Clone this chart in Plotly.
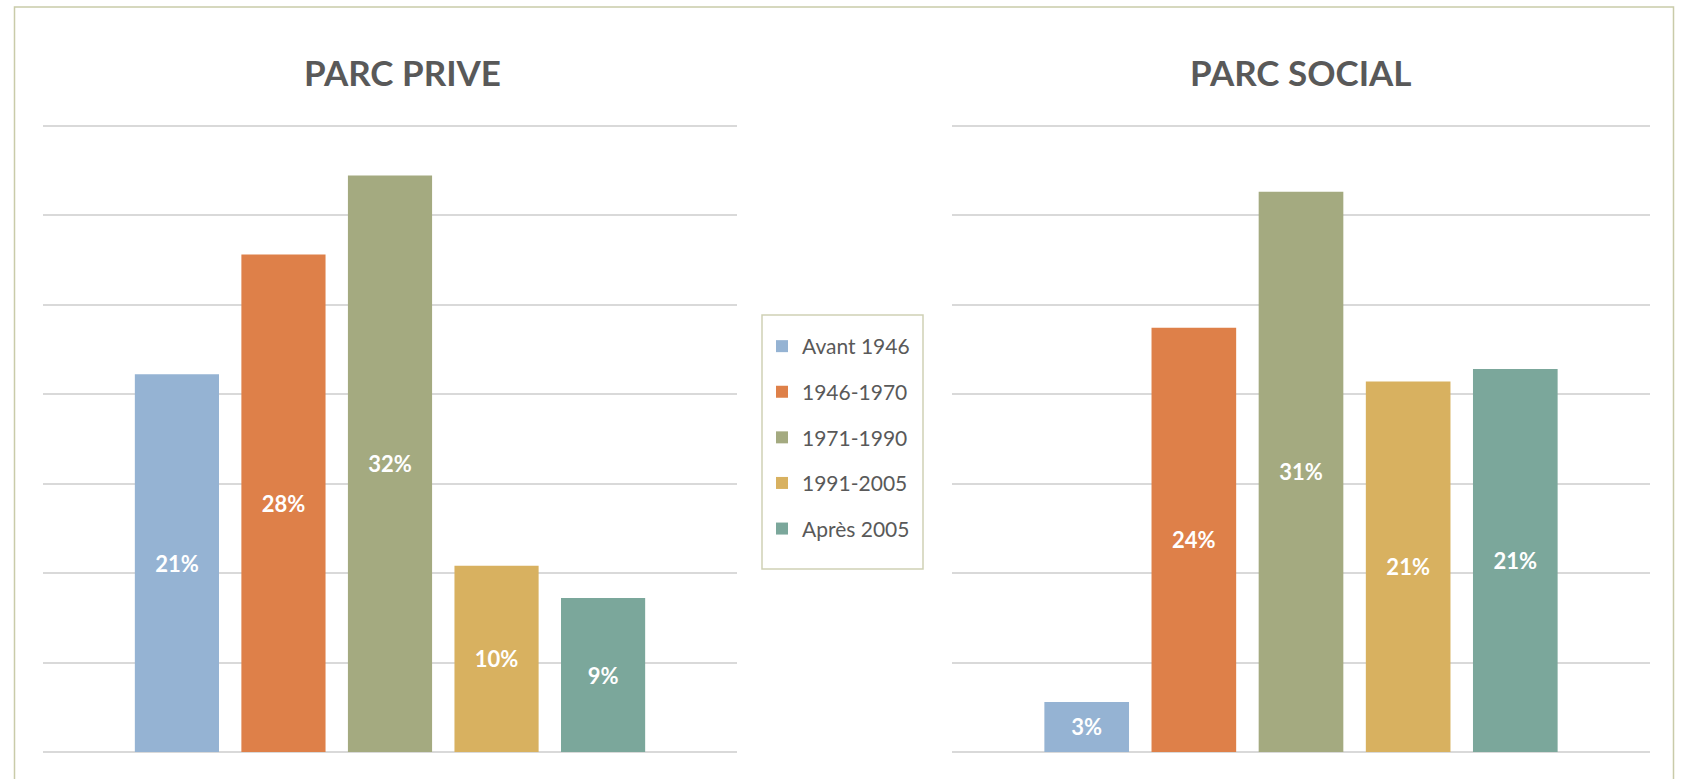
import plotly.graph_objects as go

categories = ["Avant 1946", "1946-1970", "1971-1990", "1991-2005", "Après 2005"]
prive_values = [21.1, 27.8, 32.2, 10.4, 8.6]
social_values = [2.8, 23.7, 31.3, 20.7, 21.4]
panel_titles = ["PARC PRIVE", "PARC SOCIAL"]
colors = ["#95B3D3", "#DE8049", "#A4AA80", "#D8B160", "#7BA79B"]

W, H = 1686, 779
FONT = "Lato"

fig = go.Figure()

for i, cat in enumerate(categories):
    fig.add_trace(go.Bar(
        x=[cat], y=[prive_values[i]], name=cat, legendgroup=cat,
        marker=dict(color=colors[i], line=dict(width=0)),
        width=0.79, texttemplate="%{y:.0f}%", textposition="inside",
        insidetextanchor="middle", textangle=0, constraintext="none",
        textfont=dict(family=FONT, size=22, color="white", weight="bold"),
        xaxis="x", yaxis="y", showlegend=True,
    ))
for i, cat in enumerate(categories):
    fig.add_trace(go.Bar(
        x=[cat], y=[social_values[i]], name=cat, legendgroup=cat,
        marker=dict(color=colors[i], line=dict(width=0)),
        width=0.79, texttemplate="%{y:.0f}%", textposition="inside",
        insidetextanchor="middle", textangle=0, constraintext="none",
        textfont=dict(family=FONT, size=22, color="white", weight="bold"),
        xaxis="x2", yaxis="y2", showlegend=False,
    ))

# 0 at y=752px, 35 at y=125.5px -> extend range to 36 so top gridline is drawn
px_per_unit = (752 - 125.5) / 35
ytop = 36
ydom = [(H - 752) / H, (H - (752 - ytop * px_per_unit)) / H]
yax = dict(range=[0, ytop], tickvals=[0, 5, 10, 15, 20, 25, 30, 35], showgrid=True,
           gridcolor="#D9D9D9", gridwidth=1.5,
           zeroline=True, zerolinecolor="#D9D9D9", zerolinewidth=1.5,
           showticklabels=False, ticks="", domain=ydom, fixedrange=True)
xax = dict(type="category", categoryorder="array", categoryarray=categories,
           range=[-1.257, 5.257], showticklabels=False, ticks="", showgrid=False,
           zeroline=False, showline=False, fixedrange=True)

fig.update_layout(
    width=W, height=H,
    margin=dict(l=0, r=0, t=0, b=0),
    paper_bgcolor="white", plot_bgcolor="white",
    barmode="overlay",
    xaxis=dict(xax, domain=[43 / W, 737 / W]),
    xaxis2=dict(xax, domain=[952 / W, 1650 / W]),
    yaxis=dict(yax, anchor="x"),
    yaxis2=dict(yax, anchor="x2"),
    font=dict(family=FONT, color="#595959"),
    legend=dict(
        x=762 / W, xanchor="left", y=(H - 326) / H, yanchor="top",
        bgcolor="rgba(0,0,0,0)", bordercolor="rgba(0,0,0,0)", borderwidth=0,
        font=dict(family=FONT, size=21, color="#595959"),
        traceorder="grouped", tracegroupgap=15.3,
    ),
    showlegend=True,
)

title_x = [402.5 / W, 1301 / W]
for t, xp in zip(panel_titles, title_x):
    fig.add_annotation(
        text=t, x=xp, y=(H - 71.5) / H, xref="paper", yref="paper",
        xanchor="center", yanchor="middle", showarrow=False,
        font=dict(family=FONT, size=35, color="#595959", weight="bold"),
    )

# outer frame
fig.add_shape(type="rect", xref="paper", yref="paper",
              x0=14.5 / W, x1=1673.5 / W, y0=-0.1, y1=(H - 7) / H,
              line=dict(color="#C9CBA9", width=1.5), fillcolor="rgba(0,0,0,0)",
              layer="below")
# legend frame
fig.add_shape(type="rect", xref="paper", yref="paper",
              x0=762 / W, x1=923 / W, y0=(H - 569) / H, y1=(H - 315) / H,
              line=dict(color="#CFD1B5", width=1.5), fillcolor="white",
              layer="below")

fig.write_html("out.html", config={"displayModeBar": False},
               post_script="document.body.style.margin='0';document.body.style.overflow='hidden';")
